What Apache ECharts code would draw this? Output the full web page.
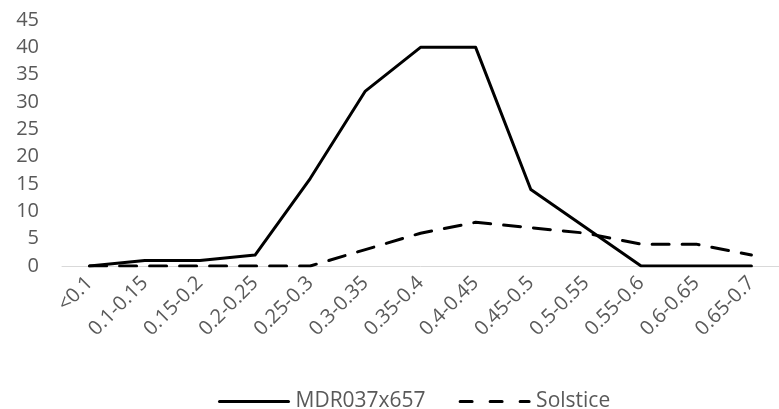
<!DOCTYPE html>
<html>
<head>
<meta charset="utf-8">
<script src="https://cdn.jsdelivr.net/npm/echarts@6/dist/echarts.min.js"></script>
<style>
  html, body { margin: 0; padding: 0; background: #fff; }
  #chart { width: 779px; height: 409px; }
</style>
</head>
<body>
<div id="chart"></div>
<script>
// Size classes along the x axis
const categories = ['<0.1', '0.1-0.15', '0.15-0.2', '0.2-0.25', '0.25-0.3', '0.3-0.35',
  '0.35-0.4', '0.4-0.45', '0.45-0.5', '0.5-0.55', '0.55-0.6', '0.6-0.65', '0.65-0.7'];

// Counts per class for each line
const mdrValues = [0, 1, 1, 2, 16, 32, 40, 40, 14, 7, 0, 0, 0];
const solsticeValues = [0, 0, 0, 0, 0, 3, 6, 8, 7, 6, 4, 4, 2];

const seriesNames = ['MDR037x657', 'Solstice'];

const chart = echarts.init(document.getElementById('chart'));
const font = '"Open Sans", sans-serif';
const grey = '#595959';

chart.setOption({
  animation: false,
  textStyle: { fontFamily: font },
  grid: { left: 62, right: 0, top: 20, bottom: 143 },
  legend: {
    top: 386,
    left: 213,
    itemWidth: 69,
    itemHeight: 22,
    itemGap: 33,
    // hide the marker circle so only the line sample remains
    itemStyle: { opacity: 0 },
    lineStyle: { width: 3 },
    textStyle: { color: grey, fontSize: 21, fontFamily: font, padding: [0, 0, 0, 2] },
    data: [
      { name: seriesNames[0] },
      { name: seriesNames[1], lineStyle: { width: 3, type: [12, 18], cap: 'round' } }
    ]
  },
  xAxis: {
    type: 'category',
    data: categories,
    boundaryGap: true,
    axisLine: { lineStyle: { color: '#d9d9d9', width: 1 } },
    axisTick: { show: false },
    axisLabel: {
      rotate: 45,
      interval: 0,
      color: grey,
      fontSize: 20,
      margin: 14,
      fontFamily: font
    }
  },
  yAxis: {
    type: 'value',
    min: 0,
    max: 45,
    interval: 5,
    splitLine: { show: false },
    axisLine: { show: false },
    axisTick: { show: false },
    axisLabel: { color: grey, fontSize: 20, margin: 23, fontFamily: font }
  },
  series: [
    {
      name: seriesNames[0],
      type: 'line',
      data: mdrValues,
      symbol: 'none',
      lineStyle: { color: '#000', width: 3, cap: 'round', join: 'round' },
      itemStyle: { color: '#000' }
    },
    {
      name: seriesNames[1],
      type: 'line',
      data: solsticeValues,
      symbol: 'none',
      lineStyle: { color: '#000', width: 3, type: [17, 13], cap: 'round' },
      itemStyle: { color: '#000' }
    }
  ]
});
</script>
</body>
</html>
